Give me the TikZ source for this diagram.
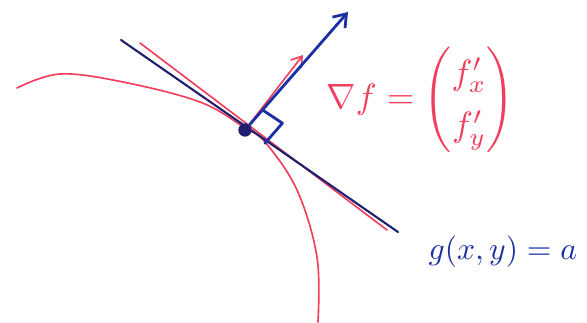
\documentclass[tikz,border=0pt]{standalone}
\usepackage{amsmath}
\usepackage{tikz}
\usetikzlibrary{arrows.meta,calc}
\definecolor{PenRed}{RGB}{240,62,92}
\definecolor{PenBlue}{RGB}{28,48,165}
\definecolor{PenNavy}{RGB}{30,32,110}

\begin{document}
\begin{tikzpicture}[x=0.03cm,y=-0.03cm,line cap=round,line join=round,
  redpen/.style={PenRed,line width=1.4pt},
  bluepen/.style={PenBlue,line width=2.4pt}]
\useasboundingbox (0,0) rectangle (587,322);
% level curve of f
\draw[redpen] plot[smooth,tension=0.6] coordinates {(17,88) (60,74) (123,82)
  (200,102) (245,128) (265,142) (297,190) (317,257) (318,322)};
% tangent lines through the point
\coordinate (t1) at (121,40); \coordinate (t2) at (398,232);
\coordinate (r1) at (140,43); \coordinate (r2) at (387,230);
\draw[redpen] (r1) -- (r2);
\draw[PenNavy,line width=1.8pt] (t1) -- (t2);
\node[circle,fill=PenNavy,inner sep=0pt,minimum size=0.4cm] (P) at (245,130) {};
% gradients
\coordinate (redTip) at (303,55);
\coordinate (gradTip) at (348,12);
\draw[redpen,-{Straight Barb[length=3mm,width=4mm]}] (P) -- (redTip);
\draw[bluepen,-{Straight Barb[length=3.5mm,width=5mm]}] (P) -- (gradTip);
\coordinate (ra) at ($(P)!0.17!(gradTip)$);
\coordinate (rb) at ($(P)!0.13!(t2)$);
\draw[bluepen] (ra) -- ($(ra)+(rb)-(P)$) -- (rb);
% labels
\node[PenRed,scale=3,inner sep=0pt,anchor=west] (gradf) at (326,100)
  {$\nabla f = \renewcommand{\arraystretch}{1.25}\begin{pmatrix} f'_x \\ f'_y \end{pmatrix}$};
\node[PenBlue,scale=2.7,inner sep=0pt,anchor=west] (gxy) at (428,252) {$g(x,y)=a$};
\end{tikzpicture}
\end{document}
